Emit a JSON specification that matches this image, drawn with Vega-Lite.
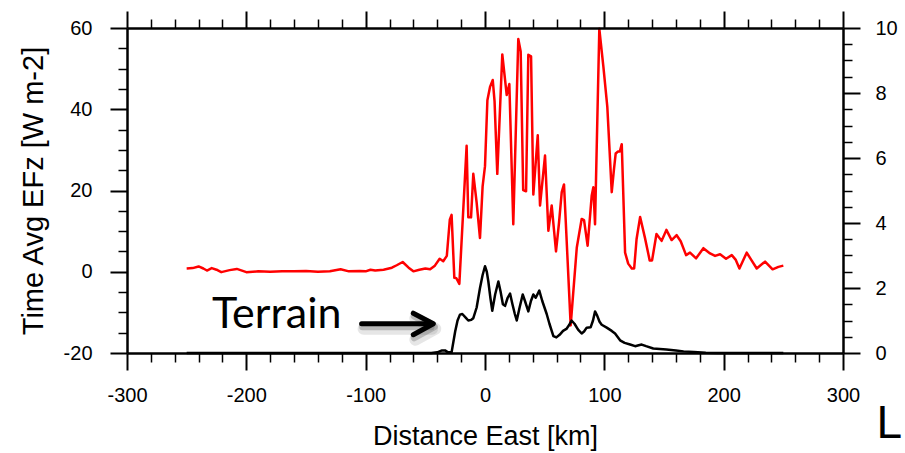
{
  "$schema": "https://vega.github.io/schema/vega-lite/v6.json",
  "width": 716,
  "height": 325,
  "autosize": {"type": "none"},
  "padding": {"left": 127, "top": 28, "right": 62, "bottom": 100},
  "background": "white",
  "config": {
    "view": {"stroke": null},
    "font": "Liberation Sans",
    "axis": {
      "grid": false,
      "domainColor": "black",
      "tickColor": "black",
      "labelColor": "black",
      "titleColor": "black",
      "labelFont": "Liberation Sans",
      "titleFont": "Liberation Sans",
      "titleFontWeight": "normal",
      "labelFlush": false,
      "labelOverlap": false,
      "labelExpr": "toString(datum.value)"
    }
  },
  "title": {
    "text": "L",
    "orient": "bottom",
    "anchor": "end",
    "frame": "group",
    "font": "Liberation Sans Narrow, Liberation Sans",
    "fontSize": 46,
    "fontWeight": "normal",
    "color": "black",
    "offset": -47,
    "dx": 59
  },
  "datasets": {
    "efz": [
      {"x": -250, "efz": 0.8}, {"x": -245, "efz": 0.9}, {"x": -240, "efz": 1.3}, {"x": -236, "efz": 0.8},
      {"x": -233, "efz": 0.3}, {"x": -229, "efz": 0.9}, {"x": -225, "efz": 0.5}, {"x": -221, "efz": -0.1},
      {"x": -214, "efz": 0.4}, {"x": -208, "efz": 0.7}, {"x": -203, "efz": 0.2}, {"x": -200, "efz": -0.1},
      {"x": -190, "efz": 0.1}, {"x": -180, "efz": 0.0}, {"x": -170, "efz": 0.1}, {"x": -160, "efz": 0.1},
      {"x": -150, "efz": 0.2}, {"x": -140, "efz": 0.0}, {"x": -130, "efz": 0.1}, {"x": -121, "efz": 0.6},
      {"x": -114, "efz": 0.1}, {"x": -105, "efz": 0.2}, {"x": -100, "efz": 0.1}, {"x": -96, "efz": 0.5},
      {"x": -92, "efz": 0.3}, {"x": -85, "efz": 0.5}, {"x": -78, "efz": 1.0}, {"x": -74, "efz": 1.6},
      {"x": -69, "efz": 2.4}, {"x": -64, "efz": 1.0}, {"x": -60, "efz": 0.1}, {"x": -55, "efz": 0.5},
      {"x": -50, "efz": 0.8}, {"x": -46, "efz": 0.6}, {"x": -42, "efz": 1.5}, {"x": -38, "efz": 3.2},
      {"x": -35, "efz": 2.6}, {"x": -32, "efz": 3.9}, {"x": -29.5, "efz": 12.8}, {"x": -28, "efz": 14.0},
      {"x": -25.7, "efz": -1.5}, {"x": -24, "efz": -1.6}, {"x": -21.5, "efz": -3.0}, {"x": -15.4, "efz": 31.0},
      {"x": -14, "efz": 13.4}, {"x": -11.7, "efz": 13.4}, {"x": -9.8, "efz": 24.1}, {"x": -7, "efz": 17.0},
      {"x": -4.2, "efz": 8.3}, {"x": -2, "efz": 21.0}, {"x": 0, "efz": 26.0}, {"x": 2, "efz": 42.2},
      {"x": 4.2, "efz": 45.5}, {"x": 6.5, "efz": 47.2}, {"x": 8, "efz": 42.0}, {"x": 10.3, "efz": 24.1},
      {"x": 14.5, "efz": 53.5}, {"x": 18.2, "efz": 43.5}, {"x": 20.4, "efz": 46.2}, {"x": 23.7, "efz": 11.7},
      {"x": 27.9, "efz": 57.3}, {"x": 29.9, "efz": 54.2}, {"x": 32, "efz": 20.1}, {"x": 34.4, "efz": 19.8},
      {"x": 36.3, "efz": 53.4}, {"x": 38.6, "efz": 53.0}, {"x": 40.5, "efz": 19.0}, {"x": 44.2, "efz": 33.6},
      {"x": 46.1, "efz": 16.3}, {"x": 50.3, "efz": 28.6}, {"x": 53.1, "efz": 10.1}, {"x": 55.9, "efz": 16.3},
      {"x": 59.5, "efz": 5.0}, {"x": 62, "efz": 12.0}, {"x": 64.3, "efz": 19.6}, {"x": 66.2, "efz": 21.5},
      {"x": 71.8, "efz": -13.2}, {"x": 76.9, "efz": 5.9}, {"x": 81, "efz": 13.0}, {"x": 83, "efz": 12.7},
      {"x": 86, "efz": 6.4}, {"x": 89.4, "efz": 18.7}, {"x": 90.8, "efz": 20.8}, {"x": 92.2, "efz": 11.7},
      {"x": 95.8, "efz": 59.8}, {"x": 99.2, "efz": 50.5}, {"x": 102.5, "efz": 40.6}, {"x": 106.2, "efz": 19.6},
      {"x": 108, "efz": 25.0}, {"x": 109.5, "efz": 29.1}, {"x": 111.5, "efz": 29.6}, {"x": 113, "efz": 29.6},
      {"x": 114.6, "efz": 31.4}, {"x": 117.4, "efz": 4.7}, {"x": 120, "efz": 2.0}, {"x": 123, "efz": 0.8},
      {"x": 125, "efz": 0.8}, {"x": 127, "efz": 8.0}, {"x": 130, "efz": 13.5}, {"x": 134, "efz": 8.4},
      {"x": 138, "efz": 2.8}, {"x": 140, "efz": 2.8}, {"x": 143.7, "efz": 9.3}, {"x": 148, "efz": 7.6},
      {"x": 152, "efz": 10.3}, {"x": 156.4, "efz": 7.8}, {"x": 160.6, "efz": 9.0}, {"x": 164, "efz": 7.5},
      {"x": 168.5, "efz": 4.1}, {"x": 171.8, "efz": 4.7}, {"x": 176.9, "efz": 3.3}, {"x": 183, "efz": 5.8},
      {"x": 188.6, "efz": 4.5}, {"x": 192.8, "efz": 3.9}, {"x": 197, "efz": 4.3}, {"x": 202, "efz": 3.2},
      {"x": 206.8, "efz": 4.1}, {"x": 210, "efz": 3.0}, {"x": 213.2, "efz": 0.8}, {"x": 219.3, "efz": 4.7},
      {"x": 223, "efz": 3.0}, {"x": 227.7, "efz": 0.8}, {"x": 234.7, "efz": 2.5}, {"x": 241, "efz": 0.6},
      {"x": 245.9, "efz": 1.2}, {"x": 250, "efz": 1.5}
    ],
    "terrain": [
      {"x": -250, "h": 0}, {"x": -150, "h": 0}, {"x": -45, "h": 0}, {"x": -40, "h": 0.02},
      {"x": -36, "h": 0.08}, {"x": -33.5, "h": 0.08}, {"x": -31, "h": 0.02}, {"x": -28, "h": 0.02},
      {"x": -25, "h": 0.66}, {"x": -23, "h": 1.0}, {"x": -21, "h": 1.18}, {"x": -19, "h": 1.2},
      {"x": -16, "h": 1.08}, {"x": -14, "h": 1.0}, {"x": -11.5, "h": 1.02}, {"x": -9.8, "h": 1.07},
      {"x": -7, "h": 1.4}, {"x": -4.2, "h": 2.0}, {"x": -2, "h": 2.4}, {"x": 0, "h": 2.67},
      {"x": 1.5, "h": 2.5}, {"x": 2.8, "h": 2.2}, {"x": 4.5, "h": 1.7}, {"x": 6.1, "h": 1.3},
      {"x": 8.5, "h": 1.8}, {"x": 11.2, "h": 2.2}, {"x": 13, "h": 1.9}, {"x": 15, "h": 1.5},
      {"x": 16.8, "h": 1.45}, {"x": 19, "h": 1.7}, {"x": 21, "h": 1.83}, {"x": 23, "h": 1.5},
      {"x": 25, "h": 1.2}, {"x": 26.6, "h": 1.0}, {"x": 29, "h": 1.4}, {"x": 31.6, "h": 1.8},
      {"x": 33.5, "h": 1.6}, {"x": 36.3, "h": 1.28}, {"x": 38.5, "h": 1.6}, {"x": 40.5, "h": 1.8},
      {"x": 42.5, "h": 1.7}, {"x": 45.5, "h": 1.92}, {"x": 48, "h": 1.6}, {"x": 51.7, "h": 1.2},
      {"x": 54, "h": 0.9}, {"x": 57.3, "h": 0.52}, {"x": 59.8, "h": 0.48}, {"x": 62.5, "h": 0.56},
      {"x": 65.4, "h": 0.68}, {"x": 68.2, "h": 0.74}, {"x": 70.5, "h": 0.86}, {"x": 72.5, "h": 1.0},
      {"x": 75, "h": 0.9}, {"x": 78, "h": 0.72}, {"x": 81, "h": 0.6}, {"x": 83, "h": 0.66},
      {"x": 85.2, "h": 0.78}, {"x": 88.5, "h": 0.79}, {"x": 90.5, "h": 1.0}, {"x": 92.2, "h": 1.28},
      {"x": 94, "h": 1.15}, {"x": 96, "h": 0.96}, {"x": 97.8, "h": 0.87}, {"x": 102, "h": 0.78},
      {"x": 106.2, "h": 0.68}, {"x": 109, "h": 0.6}, {"x": 113.2, "h": 0.39}, {"x": 117, "h": 0.31},
      {"x": 121.6, "h": 0.26}, {"x": 125.8, "h": 0.21}, {"x": 128, "h": 0.23}, {"x": 131.3, "h": 0.26},
      {"x": 135, "h": 0.21}, {"x": 141, "h": 0.14}, {"x": 152, "h": 0.11}, {"x": 160, "h": 0.08},
      {"x": 166.4, "h": 0.05}, {"x": 175, "h": 0.03}, {"x": 185, "h": 0.01}, {"x": 195, "h": 0},
      {"x": 250, "h": 0}
    ],
    "arrow": [
      {"part": "shaft", "i": 0, "x": -103.4, "y": -12.8},
      {"part": "shaft", "i": 1, "x": -46, "y": -12.8},
      {"part": "head", "i": 0, "x": -60.1, "y": -10.2},
      {"part": "head", "i": 1, "x": -43.3, "y": -12.8},
      {"part": "head", "i": 2, "x": -60.1, "y": -15.5}
    ],
    "note": [{"x": -228.8, "y": -13.9, "label": "Terrain"}]
  },
  "layer": [
    {
      "data": {"name": "efz"},
      "mark": {"type": "line", "color": "#ff0000", "strokeWidth": 2.5, "strokeJoin": "round"},
      "encoding": {
        "x": {
          "field": "x", "type": "quantitative",
          "scale": {"domain": [-300, 300], "nice": false, "zero": false},
          "axis": {
            "orient": "bottom", "values": [-300, -200, -100, 0, 100, 200, 300],
            "tickSize": 17, "tickWidth": 2, "domainWidth": 2.5, "zindex": 1,
            "labelFontSize": 20, "labelPadding": 15,
            "title": "Distance East [km]", "titleFontSize": 27, "titlePadding": 18
          }
        },
        "y": {
          "field": "efz", "type": "quantitative",
          "scale": {"domain": [-20, 60], "nice": false, "zero": false},
          "axis": {
            "orient": "left", "values": [-20, 0, 20, 40, 60],
            "tickSize": 17, "tickWidth": 2, "domainWidth": 2.5, "zindex": 1,
            "labelFontSize": 20, "labelPadding": 18,
            "title": "Time Avg EFz [W m-2]", "titleFontSize": 29, "titlePadding": 15
          }
        }
      }
    },
    {
      "data": {"name": "terrain"},
      "mark": {"type": "line", "color": "black", "strokeWidth": 2.5, "strokeJoin": "round"},
      "encoding": {
        "x": {
          "field": "x", "type": "quantitative",
          "scale": {"domain": [-300, 300], "nice": false, "zero": false},
          "axis": {
            "orient": "top", "values": [-300, -200, -100, 0, 100, 200, 300],
            "tickSize": 17, "tickWidth": 2, "domainWidth": 2.5, "zindex": 1,
            "labels": false, "title": null
          }
        },
        "y": {
          "field": "h", "type": "quantitative",
          "scale": {"domain": [0, 10], "nice": false, "zero": false},
          "axis": {
            "orient": "right", "values": [0, 2, 4, 6, 8, 10],
            "tickSize": 17, "tickWidth": 2, "domainWidth": 2.5, "zindex": 1,
            "labelFontSize": 20, "labelPadding": 15, "title": null
          }
        }
      }
    },
    {
      "data": {"name": "efz"},
      "mark": {"type": "point", "opacity": 0},
      "encoding": {
        "x": {
          "field": "x", "type": "quantitative",
          "scale": {"domain": [-300, 300], "nice": false, "zero": false},
          "axis": {
            "orient": "bottom",
            "values": [-280, -260, -240, -220, -180, -160, -140, -120, -80, -60, -40, -20, 20, 40, 60, 80, 120, 140, 160, 180, 220, 240, 260, 280],
            "tickSize": 9, "tickWidth": 1.5, "domain": false, "labels": false, "title": null
          }
        },
        "y": {
          "field": "efz", "type": "quantitative",
          "scale": {"domain": [-20, 60], "nice": false, "zero": false},
          "axis": {
            "orient": "left",
            "values": [-15, -10, -5, 5, 10, 15, 25, 30, 35, 45, 50, 55],
            "tickSize": 9, "tickWidth": 1.5, "domain": false, "labels": false, "title": null
          }
        }
      }
    },
    {
      "data": {"name": "terrain"},
      "mark": {"type": "point", "opacity": 0},
      "encoding": {
        "x": {
          "field": "x", "type": "quantitative",
          "scale": {"domain": [-300, 300], "nice": false, "zero": false},
          "axis": {
            "orient": "top",
            "values": [-280, -260, -240, -220, -180, -160, -140, -120, -80, -60, -40, -20, 20, 40, 60, 80, 120, 140, 160, 180, 220, 240, 260, 280],
            "tickSize": 9, "tickWidth": 1.5, "domain": false, "labels": false, "title": null
          }
        },
        "y": {
          "field": "h", "type": "quantitative",
          "scale": {"domain": [0, 10], "nice": false, "zero": false},
          "axis": {
            "orient": "right",
            "values": [0.5, 1, 1.5, 2.5, 3, 3.5, 4.5, 5, 5.5, 6.5, 7, 7.5, 8.5, 9, 9.5],
            "tickSize": 9, "tickWidth": 1.5, "domain": false, "labels": false, "title": null
          }
        }
      }
    },
    {
      "data": {"name": "note"},
      "mark": {"type": "text", "font": "Lato", "fontSize": 43, "align": "left", "baseline": "alphabetic", "color": "black"},
      "encoding": {
        "x": {"field": "x", "type": "quantitative", "scale": {"domain": [-300, 300], "nice": false, "zero": false}, "axis": null},
        "y": {"field": "y", "type": "quantitative", "scale": {"domain": [-20, 60], "nice": false, "zero": false}, "axis": null},
        "text": {"field": "label"}
      }
    },
    {
      "data": {"name": "arrow"},
      "mark": {"type": "line", "color": "#777777", "opacity": 0.18, "strokeWidth": 12, "strokeCap": "round", "strokeJoin": "round", "xOffset": 2, "yOffset": 5},
      "encoding": {
        "x": {"field": "x", "type": "quantitative", "scale": {"domain": [-300, 300], "nice": false, "zero": false}, "axis": null},
        "y": {"field": "y", "type": "quantitative", "scale": {"domain": [-20, 60], "nice": false, "zero": false}, "axis": null},
        "detail": {"field": "part"},
        "order": {"field": "i"}
      }
    },
    {
      "data": {"name": "arrow"},
      "mark": {"type": "line", "color": "#555555", "opacity": 0.3, "strokeWidth": 7, "strokeCap": "round", "strokeJoin": "round", "xOffset": 1, "yOffset": 3},
      "encoding": {
        "x": {"field": "x", "type": "quantitative", "scale": {"domain": [-300, 300], "nice": false, "zero": false}, "axis": null},
        "y": {"field": "y", "type": "quantitative", "scale": {"domain": [-20, 60], "nice": false, "zero": false}, "axis": null},
        "detail": {"field": "part"},
        "order": {"field": "i"}
      }
    },
    {
      "data": {"name": "arrow"},
      "mark": {"type": "line", "color": "black", "strokeWidth": 5, "strokeCap": "round", "strokeJoin": "round"},
      "encoding": {
        "x": {"field": "x", "type": "quantitative", "scale": {"domain": [-300, 300], "nice": false, "zero": false}, "axis": null},
        "y": {"field": "y", "type": "quantitative", "scale": {"domain": [-20, 60], "nice": false, "zero": false}, "axis": null},
        "detail": {"field": "part"},
        "order": {"field": "i"}
      }
    }
  ],
  "resolve": {
    "scale": {"y": "independent"},
    "axis": {"x": "independent", "y": "independent"}
  }
}
